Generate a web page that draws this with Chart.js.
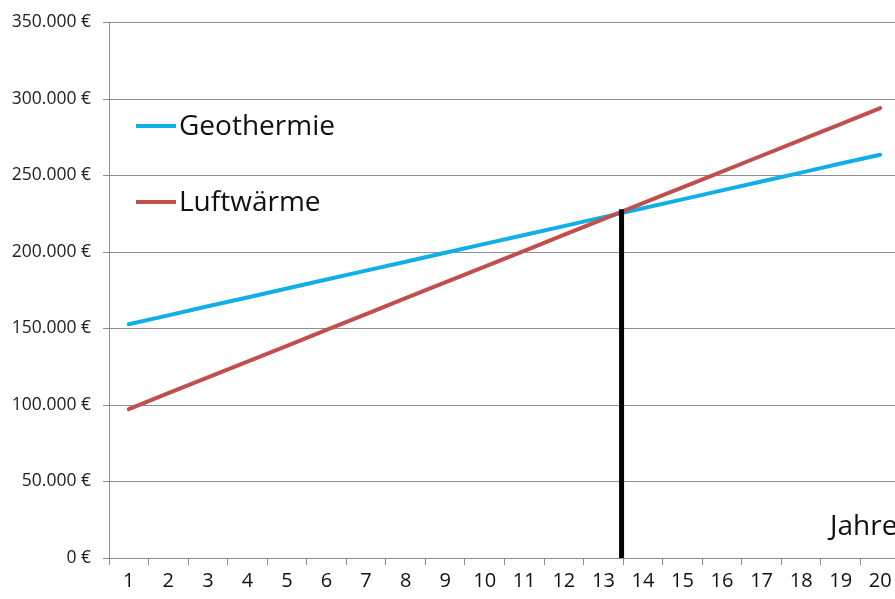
<!DOCTYPE html>
<html>
<head>
<meta charset="utf-8">
<script src="https://cdn.jsdelivr.net/npm/chart.js@4.4.1/dist/chart.umd.min.js"></script>
<style>
  html, body { margin: 0; padding: 0; background: #fff; overflow: hidden; }
  #wrap { position: relative; width: 905px; height: 599px; }
  .legText { position: absolute; font-family: "Open Sans", sans-serif; font-size: 28px; line-height: 28px; color: #111; white-space: nowrap; }
  .legLine { position: absolute; height: 4px; width: 40px; }
</style>
</head>
<body>
<div id="wrap">
  <canvas id="kostenChart" width="905" height="599"></canvas>
  <div id="legende"></div>
  <div class="legText" style="left:830px; top:510px;">Jahre</div>
</div>
<script>
// Jahre auf der x-Achse
const jahre = [1, 2, 3, 4, 5, 6, 7, 8, 9, 10, 11, 12, 13, 14, 15, 16, 17, 18, 19, 20]

// Gesamtkosten
const geothermie = [152800, 158600, 164500, 170300, 176100, 182000, 187800, 193600, 199500, 205300,
  211100, 216900, 222800, 228600, 234400, 240300, 246100, 251900, 257800, 263600]
const luftwaerme = [97300, 107700, 118000, 128400, 138700, 149100, 159400, 169800, 180100, 190500,
  200800, 211200, 221500, 231900, 242200, 252600, 262900, 273300, 283600, 294000]

// senkrechte Linie am Schnittpunkt
const schnittJahr = 13.46
const schnittWert = [0, 228000]

const serienNamen = ["Geothermie", "Luftwärme"]
const serienFarben = ["#12aee6", "#c0504d"]

const grau = "#8e8e8e"

function euro(v) {
  return String(v).replace(/\B(?=(\d{3})+(?!\d))/g, ".") + " €"
}

const datasets = [
  {
    label: serienNamen[0],
    data: jahre.map((j, i) => ({ x: j, y: geothermie[i] })),
    borderColor: serienFarben[0],
    borderWidth: 4,
    borderCapStyle: "round",
    pointRadius: 0,
    order: 2
  },
  {
    label: serienNamen[1],
    data: jahre.map((j, i) => ({ x: j, y: luftwaerme[i] })),
    borderColor: serienFarben[1],
    borderWidth: 4,
    borderCapStyle: "round",
    pointRadius: 0,
    order: 1
  },
  {
    label: "Schnittpunkt",
    data: schnittWert.map((w) => ({ x: schnittJahr, y: w })),
    borderColor: "#000",
    borderWidth: 5,
    pointRadius: 0,
    order: 0
  }
]

const config = {
  type: "line",
  data: { datasets: datasets },
  options: {
    responsive: false,
    animation: false,
    layout: {
      padding: { left: 0, top: 22, right: 5, bottom: 0 }
    },
    plugins: {
      legend: { display: false },
      tooltip: { enabled: false }
    },
    scales: {
      x: {
        type: "linear",
        min: 0.5,
        max: 20.5,
        afterBuildTicks: (scale) => {
          scale.ticks = jahre.map((j) => ({ value: j }))
        },
        afterFit: (scale) => {
          scale.height = 41
        },
        ticks: {
          autoSkip: false,
          maxRotation: 0,
          padding: 4,
          color: "#111",
          font: { family: "Open Sans", size: 20 }
        },
        grid: {
          offset: true,
          drawOnChartArea: false,
          tickLength: 7,
          color: grau
        },
        border: { color: grau }
      },
      y: {
        min: 0,
        max: 350000,
        afterFit: (scale) => {
          scale.width = 109
        },
        ticks: {
          stepSize: 50000,
          padding: 12,
          color: "#222",
          font: { family: "Open Sans", size: 17.5 },
          callback: (v) => euro(v)
        },
        grid: {
          color: grau,
          tickLength: 6
        },
        border: { color: grau }
      }
    }
  }
}

const kostenChart = new Chart(document.getElementById("kostenChart"), config)

// Legende im Diagramm (wie im Original)
const legende = document.getElementById("legende")
const legendeY = [126, 202]
serienNamen.forEach((name, i) => {
  const linie = document.createElement("div")
  linie.className = "legLine"
  linie.style.left = "136px"
  linie.style.top = (legendeY[i] - 2) + "px"
  linie.style.background = serienFarben[i]
  legende.appendChild(linie)

  const text = document.createElement("div")
  text.className = "legText"
  text.style.left = "179px"
  text.style.top = (legendeY[i] - 16) + "px"
  text.textContent = name
  legende.appendChild(text)
})
</script>
</body>
</html>
